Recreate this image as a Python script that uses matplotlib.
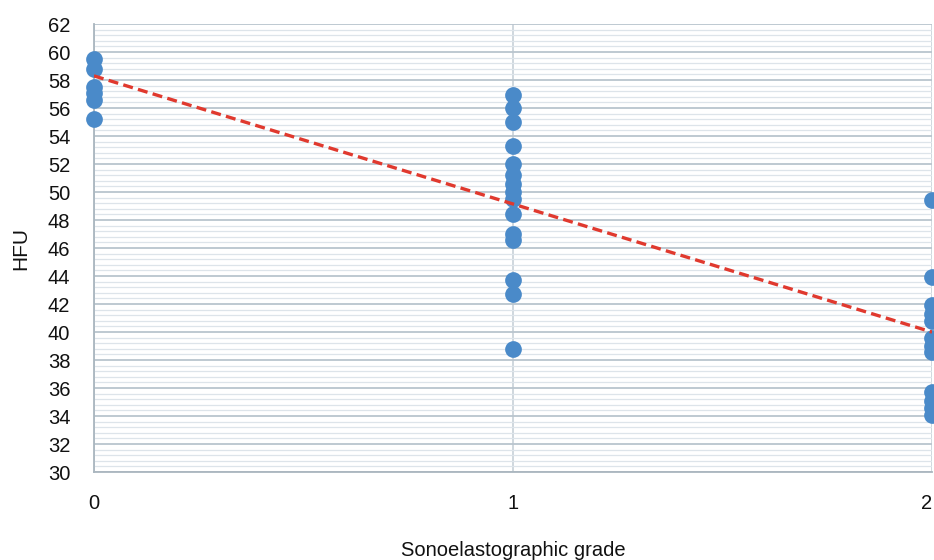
import numpy as np
import matplotlib.pyplot as plt
from matplotlib.ticker import MultipleLocator

plt.rcParams['font.family'] = ['Liberation Sans', 'DejaVu Sans']

# HFU values by sonoelastographic grade
grade0_hfu = [59.5, 58.8, 57.5, 57.1, 56.6, 55.2]
grade1_hfu = [56.9, 56.0, 55.0, 53.3, 52.0, 51.2, 50.6, 50.0, 49.5, 48.4,
              47.0, 46.6, 43.7, 42.7, 38.8]
grade2_hfu = [49.4, 43.9, 41.9, 41.3, 40.8, 39.6, 39.0, 38.6, 35.7, 35.1,
              34.6, 34.1]

# linear trend line
trend_intercept = 58.3
trend_slope = -9.15

grades = [0, 1, 2]
xs = np.concatenate([np.full(len(grade0_hfu), 0),
                     np.full(len(grade1_hfu), 1),
                     np.full(len(grade2_hfu), 2)])
ys = np.concatenate([grade0_hfu, grade1_hfu, grade2_hfu])

fig = plt.figure(figsize=(9.34, 5.6), dpi=100)
ax = fig.add_axes([0.1006, 0.157, 0.8973, 0.8])

ax.set_xlim(0, 2)
ax.set_ylim(30, 62)
ax.yaxis.set_major_locator(MultipleLocator(2))
ax.yaxis.set_minor_locator(MultipleLocator(0.4))
ax.set_xticks(grades)

ax.grid(which='major', axis='y', color='#b9c5ce', linewidth=1.3)
ax.grid(which='minor', axis='y', color='#dde4ea', linewidth=0.9)
ax.grid(which='major', axis='x', color='#c7d1d8', linewidth=1.2)
ax.set_axisbelow(True)

for side in ['top', 'right']:
    ax.spines[side].set_visible(False)
for side in ['left', 'bottom']:
    ax.spines[side].set_color('#aab6bf')
    ax.spines[side].set_linewidth(1.3)

ax.tick_params(which='both', length=0)
ax.tick_params(axis='y', pad=17, labelsize=14.5, labelcolor='#111111')
ax.tick_params(axis='x', pad=16, labelsize=14.5, labelcolor='#111111')
# last grade label sits at the figure edge, keep it inside
ax.get_xticklabels()[-1].set_horizontalalignment('right')

ax.scatter(xs, ys, s=145, color='#4a8ac9', zorder=3, clip_on=False,
           linewidths=0)

tx = np.array([0, 2])
ax.plot(tx, trend_intercept + trend_slope * tx, linestyle=(0, (3, 1.6)),
        color='#e0392e', linewidth=2.4, zorder=4)

ax.set_ylabel('HFU', fontsize=15, color='#111111', labelpad=13)
ax.set_xlabel('Sonoelastographic grade', fontsize=14.5, color='#111111',
              labelpad=20)

plt.savefig('out.png', dpi=100)
